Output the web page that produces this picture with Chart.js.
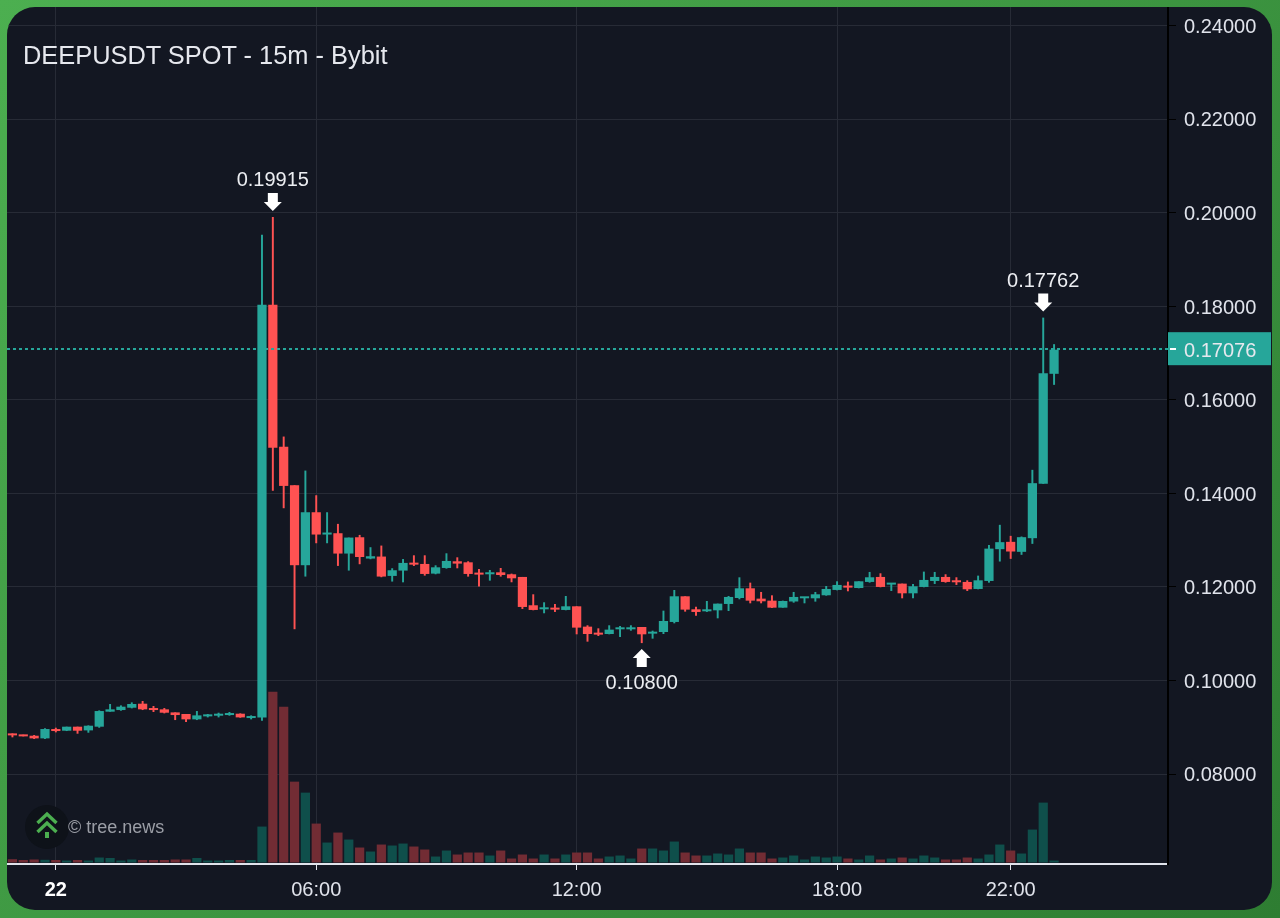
<!DOCTYPE html>
<html>
<head>
<meta charset="utf-8">
<title>DEEPUSDT SPOT - 15m - Bybit</title>
<script src="https://cdn.jsdelivr.net/npm/chart.js@4/dist/chart.umd.min.js"></script>
<style>
  html, body { margin: 0; padding: 0; width: 1280px; height: 918px; overflow: hidden; }
  body { background: linear-gradient(135deg, #4caf50 0%, #2e7d32 100%); font-family: "Liberation Sans", Arial, sans-serif; }
  #card { position: absolute; left: 0; top: 0; width: 1280px; height: 918px; background: #131722; clip-path: inset(7px 8px 8px 7px round 28px); }
  #chart { position: absolute; left: 0; top: 0; }
  #title { position: absolute; left: 23px; top: 41px; font-size: 25.4px; line-height: 28px; color: #e6e8ee; white-space: nowrap; }
  #logo { position: absolute; left: 25px; top: 805px; width: 44px; height: 44px; }
  #mark { position: absolute; left: 68px; top: 816px; font-size: 18px; line-height: 22px; color: #9b9ea6; white-space: nowrap; }
</style>
</head>
<body>
<div id="card">
  <canvas id="chart" width="1280" height="918"></canvas>
  <div id="title">DEEPUSDT SPOT - 15m - Bybit</div>
  <svg id="logo" viewBox="0 0 44 44">
    <circle cx="22" cy="22" r="22" fill="#0e1219"/>
    <path d="M12.5 18 L22 9 L31.5 18 M12.5 27 L22 18 L31.5 27" fill="none" stroke="#4caf50" stroke-width="3.4"/>
    <rect x="20" y="27" width="4" height="6" fill="#4caf50"/>
  </svg>
  <div id="mark">© tree.news</div>
</div>
<script>
// 15 minute slots, the last ten are the empty space right of the newest candle
const slots = [
  '23:00', '23:15', '23:30', '23:45',
  '00:00', '00:15', '00:30', '00:45', '01:00', '01:15', '01:30', '01:45',
  '02:00', '02:15', '02:30', '02:45', '03:00', '03:15', '03:30', '03:45',
  '04:00', '04:15', '04:30', '04:45', '05:00', '05:15', '05:30', '05:45',
  '06:00', '06:15', '06:30', '06:45', '07:00', '07:15', '07:30', '07:45',
  '08:00', '08:15', '08:30', '08:45', '09:00', '09:15', '09:30', '09:45',
  '10:00', '10:15', '10:30', '10:45', '11:00', '11:15', '11:30', '11:45',
  '12:00', '12:15', '12:30', '12:45', '13:00', '13:15', '13:30', '13:45',
  '14:00', '14:15', '14:30', '14:45', '15:00', '15:15', '15:30', '15:45',
  '16:00', '16:15', '16:30', '16:45', '17:00', '17:15', '17:30', '17:45',
  '18:00', '18:15', '18:30', '18:45', '19:00', '19:15', '19:30', '19:45',
  '20:00', '20:15', '20:30', '20:45', '21:00', '21:15', '21:30', '21:45',
  '22:00', '22:15', '22:30', '22:45', '23:00',
  '23:15', '23:30', '23:45', '00:00', '00:15', '00:30', '00:45', '01:00', '01:15', '01:30'
];

const opens = [
  0.08869, 0.08841, 0.08819, 0.08762,
  0.08962, 0.08926, 0.09012, 0.08933, 0.09012, 0.09333, 0.09368, 0.09418, 0.09504, 0.09411, 0.09383, 0.09318,
  0.09283, 0.09169, 0.09233, 0.09247, 0.09261, 0.09290, 0.09197, 0.09211, 0.18035, 0.15000, 0.14177, 0.12466,
  0.13599, 0.13122, 0.13150, 0.12715, 0.13064, 0.12608, 0.12651, 0.12237, 0.12351, 0.12521, 0.12493, 0.12286,
  0.12407, 0.12550, 0.12528, 0.12300, 0.12272, 0.12314, 0.12272, 0.12215, 0.11609, 0.11523, 0.11559, 0.11509,
  0.11587, 0.11152, 0.11017, 0.10995, 0.11095, 0.11095, 0.11145, 0.11002, 0.11038, 0.11252, 0.11801, 0.11523,
  0.11480, 0.11501, 0.11637, 0.11765, 0.11972, 0.11751, 0.11708, 0.11558, 0.11690, 0.11758, 0.11758, 0.11823,
  0.11937, 0.12029, 0.11979, 0.12108, 0.12215, 0.12051, 0.12072, 0.11865, 0.12001, 0.12129, 0.12215, 0.12143,
  0.12108, 0.11958, 0.12129, 0.12809, 0.12966, 0.12752, 0.13044, 0.14207, 0.16560
];
const highs = [
  0.08869, 0.08841, 0.08834, 0.08976,
  0.08990, 0.09012, 0.09012, 0.09040, 0.09361, 0.09497, 0.09468, 0.09532, 0.09561, 0.09454, 0.09411, 0.09318,
  0.09283, 0.09347, 0.09283, 0.09311, 0.09326, 0.09297, 0.09254, 0.19533, 0.19915, 0.15218, 0.14177, 0.14490,
  0.13963, 0.13599, 0.13350, 0.13057, 0.13114, 0.12851, 0.12886, 0.12401, 0.12598, 0.12678, 0.12678, 0.12464,
  0.12721, 0.12635, 0.12550, 0.12386, 0.12364, 0.12407, 0.12286, 0.12215, 0.11844, 0.11673, 0.11637, 0.11808,
  0.11587, 0.11181, 0.11116, 0.11181, 0.11166, 0.11181, 0.11145, 0.11066, 0.11494, 0.11936, 0.11801, 0.11580,
  0.11701, 0.11644, 0.11808, 0.12207, 0.12093, 0.11894, 0.11822, 0.11708, 0.11894, 0.11780, 0.11894, 0.12022,
  0.12122, 0.12115, 0.12122, 0.12322, 0.12293, 0.12086, 0.12072, 0.12065, 0.12329, 0.12322, 0.12272, 0.12208,
  0.12143, 0.12243, 0.12899, 0.13330, 0.13094, 0.13080, 0.14506, 0.17762, 0.17194
];
const lows = [
  0.08784, 0.08805, 0.08748, 0.08748,
  0.08891, 0.08919, 0.08862, 0.08883, 0.08990, 0.09333, 0.09354, 0.09404, 0.09368, 0.09326, 0.09297, 0.09154,
  0.09112, 0.09154, 0.09211, 0.09211, 0.09247, 0.09204, 0.09169, 0.09140, 0.14061, 0.13685, 0.11097, 0.12223,
  0.12936, 0.12936, 0.12451, 0.12351, 0.12487, 0.12594, 0.12209, 0.12116, 0.12100, 0.12450, 0.12243, 0.12272,
  0.12393, 0.12400, 0.12222, 0.12008, 0.12136, 0.12222, 0.12101, 0.11530, 0.11502, 0.11438, 0.11466, 0.11502,
  0.10988, 0.10831, 0.10952, 0.10988, 0.10931, 0.11066, 0.10800, 0.10895, 0.10995, 0.11223, 0.11473, 0.11387,
  0.11466, 0.11330, 0.11487, 0.11737, 0.11651, 0.11651, 0.11551, 0.11558, 0.11665, 0.11651, 0.11687, 0.11815,
  0.11929, 0.11908, 0.11972, 0.12093, 0.11994, 0.11915, 0.11758, 0.11758, 0.11994, 0.12065, 0.12093, 0.12044,
  0.11915, 0.11951, 0.12093, 0.12545, 0.12602, 0.12688, 0.12923, 0.14207, 0.16324
];
const closes = [
  0.08826, 0.08805, 0.08762, 0.08962,
  0.08919, 0.09012, 0.08926, 0.09033, 0.09347, 0.09383, 0.09440, 0.09497, 0.09383, 0.09368, 0.09311, 0.09261,
  0.09169, 0.09254, 0.09268, 0.09276, 0.09297, 0.09211, 0.09226, 0.18035, 0.14981, 0.14162, 0.12466, 0.13599,
  0.13122, 0.13157, 0.12715, 0.13057, 0.12642, 0.12658, 0.12223, 0.12358, 0.12515, 0.12478, 0.12279, 0.12421,
  0.12557, 0.12500, 0.12279, 0.12265, 0.12314, 0.12257, 0.12186, 0.11573, 0.11509, 0.11559, 0.11516, 0.11587,
  0.11131, 0.10995, 0.10981, 0.11088, 0.11123, 0.11138, 0.10988, 0.11038, 0.11273, 0.11801, 0.11516, 0.11466,
  0.11501, 0.11644, 0.11787, 0.11972, 0.11708, 0.11694, 0.11558, 0.11701, 0.11787, 0.11780, 0.11844, 0.11958,
  0.12044, 0.11987, 0.12122, 0.12208, 0.12001, 0.12086, 0.11865, 0.12015, 0.12151, 0.12215, 0.12108, 0.12101,
  0.11951, 0.12143, 0.12821, 0.12959, 0.12759, 0.13066, 0.14221, 0.16574, 0.17076
];
const volumes = [
  3.3, 2.5, 3, 2.7,
  2.5, 2, 2.5, 2, 5, 4.5, 2, 3, 2.5, 2.5, 2.5, 3,
  3, 4.5, 2, 2, 2.5, 2.5, 2.5, 36, 171, 156, 81, 70,
  39, 20, 30, 23, 15, 11, 18, 17, 19, 16, 13, 6,
  12, 8, 10, 10, 7, 12, 4, 8, 4, 8, 4, 8,
  10, 10, 4, 6, 7, 4, 14, 14, 12, 21, 10, 7,
  7, 9, 8, 14, 10, 10, 4, 5, 7, 3, 6, 5,
  6, 4, 3, 7, 3, 4, 5, 4, 7, 5, 3, 3,
  5, 4, 8, 18, 12, 9, 33, 60, 2
];

const priceTicks = [0.24, 0.22, 0.20, 0.18, 0.16, 0.14, 0.12, 0.10, 0.08];
const timeTickSlots = [4, 28, 52, 76, 92];
const timeTickLabels = ['22', '06:00', '12:00', '18:00', '22:00'];
const lastPrice = 0.17076;
const extremes = [
  { slot: 24, price: 0.19915, side: 'above' },
  { slot: 58, price: 0.10800, side: 'below' },
  { slot: 95, price: 0.17762, side: 'above' }
];

const UP = '#26a69a';
const DOWN = '#ff5252';
const FONT = '"Liberation Sans", Arial, sans-serif';

const isUp = (i) => closes[i] >= opens[i];
const candleColors = opens.map((o, i) => (isUp(i) ? UP : DOWN));
const volumeColors = opens.map((o, i) => (isUp(i) ? '#0f4f4b' : '#722c34'));

// Dashed last price line, price tag and the high/low arrows
const overlayPlugin = {
  id: 'overlay',
  afterDatasetsDraw(chart) {
    const { ctx, chartArea, scales } = chart;
    const y = Math.round(scales.y.getPixelForValue(lastPrice)) - 1;

    ctx.save();
    ctx.strokeStyle = UP;
    ctx.lineWidth = 2;
    ctx.setLineDash([3, 3]);
    ctx.beginPath();
    ctx.moveTo(chartArea.left, y);
    ctx.lineTo(chartArea.right, y);
    ctx.stroke();
    ctx.restore();

    extremes.forEach((m) => {
      const x = scales.x.getPixelForValue(m.slot);
      const py = scales.y.getPixelForValue(m.price);
      const dir = m.side === 'above' ? -1 : 1;
      const tip = py + dir * 6;
      ctx.save();
      ctx.fillStyle = '#ffffff';
      ctx.beginPath();
      ctx.moveTo(x, tip);
      ctx.lineTo(x + 9, tip + dir * 9);
      ctx.lineTo(x + 5, tip + dir * 9);
      ctx.lineTo(x + 5, tip + dir * 18);
      ctx.lineTo(x - 5, tip + dir * 18);
      ctx.lineTo(x - 5, tip + dir * 9);
      ctx.lineTo(x - 9, tip + dir * 9);
      ctx.closePath();
      ctx.fill();
      ctx.font = '20px ' + FONT;
      ctx.fillStyle = '#eceef2';
      ctx.textAlign = 'center';
      ctx.textBaseline = 'middle';
      ctx.fillText(m.price.toFixed(5), x, py + dir * 38 + 2);
      ctx.restore();
    });
  },
  afterDraw(chart) {
    const { ctx, scales } = chart;
    const y = scales.y.getPixelForValue(lastPrice);
    ctx.save();
    ctx.fillStyle = UP;
    ctx.fillRect(1168, y - 17.5, 103, 33);
    ctx.fillStyle = '#ffffff';
    ctx.fillRect(1170, Math.round(y) - 2, 6, 2);
    ctx.font = '20px ' + FONT;
    ctx.fillStyle = '#e6e8ee';
    ctx.textAlign = 'left';
    ctx.textBaseline = 'middle';
    ctx.fillText(lastPrice.toFixed(5), 1184, y + 1.5);
    ctx.restore();
  }
};

const chart = new Chart(document.getElementById('chart'), {
  type: 'bar',
  plugins: [overlayPlugin],
  data: {
    labels: slots,
    datasets: [
      {
        label: 'Body',
        data: opens.map((o, i) => [o, closes[i]]),
        yAxisID: 'y',
        grouped: false,
        order: 1,
        barPercentage: 0.85,
        categoryPercentage: 1,
        minBarLength: 2,
        backgroundColor: candleColors
      },
      {
        label: 'Wick',
        data: lows.map((l, i) => [l, highs[i]]),
        yAxisID: 'y',
        grouped: false,
        order: 2,
        barPercentage: 0.18,
        categoryPercentage: 1,
        backgroundColor: candleColors
      },
      {
        label: 'Volume',
        data: volumes,
        yAxisID: 'volume',
        grouped: false,
        order: 3,
        barPercentage: 0.85,
        categoryPercentage: 1,
        backgroundColor: volumeColors
      }
    ]
  },
  options: {
    responsive: false,
    animation: false,
    events: [],
    layout: { padding: { left: 7, top: 7, right: 0, bottom: 0 } },
    plugins: { legend: { display: false }, tooltip: { enabled: false }, title: { display: false } },
    scales: {
      x: {
        type: 'category',
        offset: true,
        afterBuildTicks(scale) {
          scale.ticks = timeTickSlots.map((slot) => ({ value: slot }));
        },
        afterFit(scale) {
          scale.height = 54;
          scale.paddingLeft = 0;
          scale.paddingRight = 0;
        },
        border: { color: '#e0e3eb', width: 2 },
        grid: { offset: false, color: '#272b36', tickColor: '#e0e3eb', tickLength: 6, drawOnChartArea: true },
        ticks: {
          autoSkip: false,
          maxRotation: 0,
          padding: 8,
          callback(value, index) { return timeTickLabels[index]; },
          font: (ctx) => ({ family: FONT, size: 20, weight: ctx.index === 0 ? 'bold' : 'normal' }),
          color: (ctx) => (ctx.index === 0 ? '#ffffff' : '#e0e3eb')
        }
      },
      y: {
        position: 'right',
        min: 0.06075,
        max: 0.24406,
        afterBuildTicks(scale) {
          scale.ticks = priceTicks.map((value) => ({ value }));
        },
        afterFit(scale) {
          scale.width = 112;
          scale.paddingTop = 0;
          scale.paddingBottom = 0;
        },
        border: { color: '#000000', width: 2 },
        grid: { color: '#272b36', tickColor: '#000000', tickLength: 8 },
        ticks: {
          padding: 8,
          align: 'center',
          labelOffset: 1.5,
          callback(value) { return value.toFixed(5); },
          font: { family: FONT, size: 20 },
          color: '#e0e3eb'
        }
      },
      volume: {
        display: false,
        min: -1.5,
        max: 857
      }
    }
  }
});
</script>
</body>
</html>
